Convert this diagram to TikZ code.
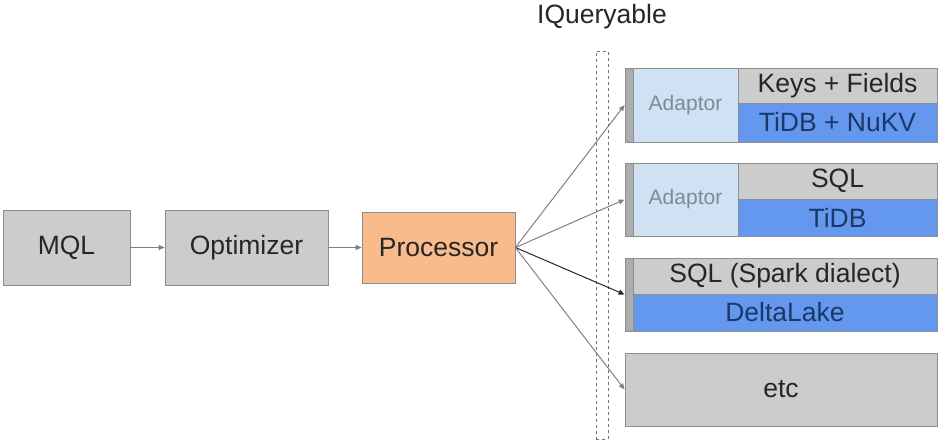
\documentclass[tikz,border=0pt]{standalone}
\usepackage{fontspec}
\setmainfont{Liberation Sans}
\usetikzlibrary{arrows.meta}
\definecolor{boxgray}{HTML}{CCCCCC}
\definecolor{edgegray}{HTML}{8E8E8E}
\definecolor{stripgray}{HTML}{ADADAD}
\definecolor{procorange}{HTML}{F9BB8C}
\definecolor{adaptblue}{HTML}{CFE2F3}
\definecolor{adapttext}{HTML}{7C8B99}
\definecolor{storeblue}{HTML}{6398EE}
\definecolor{storetext}{HTML}{1B3868}
\tikzset{
  block/.style={draw=edgegray, fill=boxgray, line width=0.8pt, inner sep=0pt,
    text=black!85, font=\fontsize{26.5}{30}\selectfont},
  adaptor/.style={block, fill=adaptblue, text=adapttext, font=\fontsize{21}{24}\selectfont},
  store/.style={block, fill=storeblue, text=storetext},
  strip/.style={block, fill=stripgray, minimum width=8pt},
  link/.style={draw=edgegray!90!black, line width=1pt}
}
\begin{document}
\begin{tikzpicture}[x=1pt, y=-1pt, >={Triangle[length=6pt, width=5pt]}]
    \useasboundingbox (0,0) rectangle (944,445);
    % pipeline
    \node[block, minimum width=127pt, minimum height=75pt] (mql) at (66.5,247.5) {MQL};
    \node[block, minimum width=163pt, minimum height=75pt] (opt) at (246.5,247.5) {Optimizer};
    \node[block, fill=procorange, minimum width=153pt, minimum height=71pt] (proc) at (438.5,247.5) {Processor};
    \draw[link, ->] (mql) -- (opt);
    \draw[link, ->] (opt) -- (proc);

    % IQueryable boundary
    \node[font=\fontsize{26.5}{30}\selectfont, text=black!85] (iq) at (602,17) {IQueryable};
    \node[draw=edgegray!80!black, dashed, line width=0.8pt, minimum width=12pt, minimum height=388pt] (wall) at (602,245) {};

    % Keys + Fields
    \node[strip, minimum height=74pt] (strip1) at (629,105) {};
    \node[adaptor, minimum width=105pt, minimum height=74pt] (adapt1) at (685.5,105) {Adaptor};
    \node[block, minimum width=199pt, minimum height=35pt] (keys1) at (837.5,85.5) {Keys + Fields};
    \node[store, minimum width=199pt, minimum height=39pt] (db1) at (837.5,122.5) {TiDB + NuKV};

    % SQL
    \node[strip, minimum height=73pt] (strip2) at (629,199.5) {};
    \node[adaptor, minimum width=105pt, minimum height=73pt] (adapt2) at (685.5,199.5) {Adaptor};
    \node[block, minimum width=199pt, minimum height=36pt] (sql2) at (837.5,181) {SQL};
    \node[store, minimum width=199pt, minimum height=37pt] (db2) at (837.5,217.5) {TiDB};

    % Spark
    \node[strip, minimum height=73pt] (strip3) at (629,294.5) {};
    \node[block, minimum width=304pt, minimum height=36pt] (sql3) at (785,276) {SQL (Spark dialect)};
    \node[store, minimum width=304pt, minimum height=37pt] (db3) at (785,312.5) {DeltaLake};

    % etc
    \node[block, minimum width=312pt, minimum height=73pt] (etc) at (781,389.5) {etc};

    \draw[link, ->] (proc.east) -- (strip1.west);
    \draw[link, ->] (proc.east) -- (strip2.west);
    \draw[link, draw=black!85, ->] (proc.east) -- (strip3.west);
    \draw[link, ->] (proc.east) -- (etc.west);
\end{tikzpicture}
\end{document}
